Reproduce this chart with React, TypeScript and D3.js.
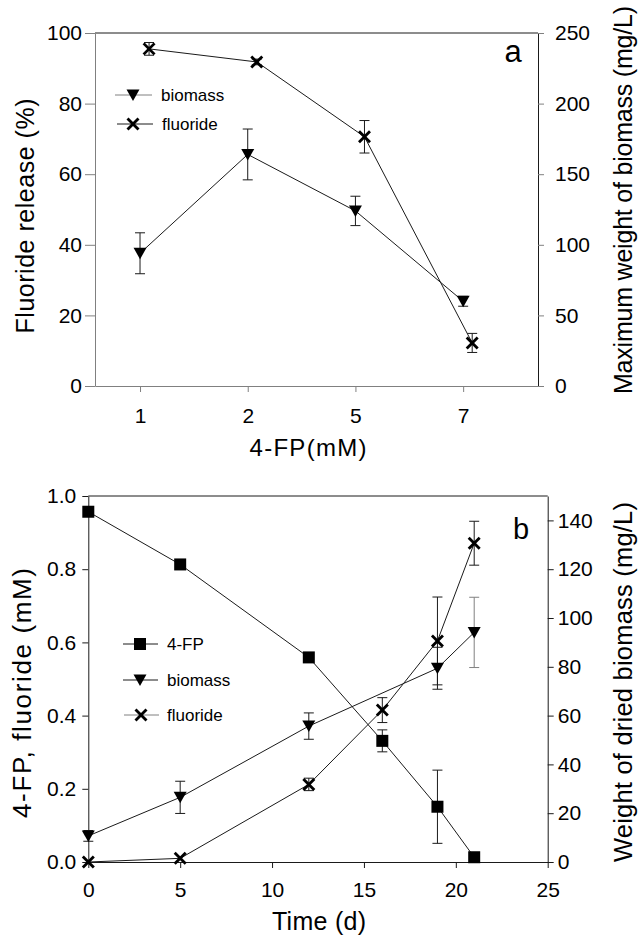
import React, { useEffect, useRef } from 'react';
import * as d3 from 'd3';

// panel a: 4-FP concentration series
const CONC_LABELS = ['1', '2', '5', '7'];
const CONC_POS = [1, 2, 3, 4];
const RELEASE = [95.5, 91.8, 70.6, 12.2];
const RELEASE_ERR = [1.8, 0.8, 4.6, 2.7];
const MAX_BIOMASS = [94, 164, 124, 60];
const MAX_BIOMASS_ERR = [14.5, 18, 10.4, 3.5];

// panel b: time course
const DAYS = [0, 5, 12, 16, 19, 21];
const FP = [0.957, 0.813, 0.559, 0.331, 0.151, 0.013];
const FP_ERR = [0, 0, 0, 0.03, 0.1, 0];
const FLUORIDE = [0.0, 0.01, 0.212, 0.415, 0.604, 0.871];
const FLUORIDE_ERR = [0, 0, 0.017, 0.034, 0.12, 0.06];
const BIOMASS_DAYS = [0, 5, 12, 19, 21];
const BIOMASS = [10.7, 26.5, 55.7, 79.4, 94.1];
const BIOMASS_ERR = [2.2, 6.6, 5.4, 8.6, 14.4];

const FONT = '"Liberation Sans", Arial, Helvetica, sans-serif';
const GRAY = '#808080';
const INK = '#1a1a1a';

const A = { left: 95, right: 538, top: 33, bottom: 386 };
const B = { left: 88.3, right: 547.7, top: 496, bottom: 862 };

const xA = d3.scaleLinear().domain([0.582, 4.695]).range([A.left, A.right]);
const yA = d3.scaleLinear().domain([0, 100]).range([A.bottom, A.top]);
const yA2 = d3.scaleLinear().domain([0, 250]).range([A.bottom, A.top]);

const xB = d3.scaleLinear().domain([0, 25]).range([B.left, B.right]);
const yB = d3.scaleLinear().domain([0, 1]).range([B.bottom, B.top]);
const yB2 = d3.scaleLinear().domain([0, 150]).range([B.bottom, B.top]);

const OFFSET = 0.084; // fluoride markers sit a little right of the category

function Tri({ x, y }: { x: number; y: number }) {
  return <path d={`M${x - 6.5},${y - 5.5}L${x + 6.5},${y - 5.5}L${x},${y + 6}Z`} fill="#000" />;
}
function Sq({ x, y }: { x: number; y: number }) {
  return <rect x={x - 6} y={y - 6} width={12} height={12} fill="#000" />;
}
function Cross({ x, y }: { x: number; y: number }) {
  const s = 5.5;
  return (
    <g stroke="#000" strokeWidth={2.8}>
      <line x1={x - s} y1={y - s} x2={x + s} y2={y + s} />
      <line x1={x - s} y1={y + s} x2={x + s} y2={y - s} />
    </g>
  );
}

function ErrBar({ x, y1, y2, color = INK }: { x: number; y1: number; y2: number; color?: string }) {
  if (Math.abs(y1 - y2) < 0.5) return null;
  return (
    <g stroke={color} strokeWidth={1}>
      <line x1={x} x2={x} y1={y1} y2={y2} />
      <line x1={x - 5} x2={x + 5} y1={y1} y2={y1} />
      <line x1={x - 5} x2={x + 5} y1={y2} y2={y2} />
    </g>
  );
}

function styleAxis(g: any, domainColor: string, tickColor: string) {
  g.attr('font-family', FONT).attr('font-size', 21);
  g.select('.domain').attr('stroke', domainColor);
  g.selectAll('.tick line').attr('stroke', tickColor);
  g.selectAll('.tick text').attr('fill', '#000');
}

export default function App() {
  const aLeft = useRef<SVGGElement>(null);
  const aRight = useRef<SVGGElement>(null);
  const aBottom = useRef<SVGGElement>(null);
  const bLeft = useRef<SVGGElement>(null);
  const bRight = useRef<SVGGElement>(null);
  const bBottom = useRef<SVGGElement>(null);

  useEffect(() => {
    d3.select(aLeft.current!)
      .call(d3.axisLeft(yA).tickValues([0, 20, 40, 60, 80, 100]).tickSize(10).tickPadding(3).tickSizeOuter(0))
      .call(g => styleAxis(g, GRAY, GRAY));
    d3.select(aRight.current!)
      .call(d3.axisRight(yA2).tickValues([0, 50, 100, 150, 200, 250]).tickSize(6).tickPadding(11).tickSizeOuter(0))
      .call(g => styleAxis(g, INK, GRAY));
    d3.select(aBottom.current!)
      .call(
        d3.axisBottom(xA).tickValues(CONC_POS).tickFormat((d: any) => CONC_LABELS[CONC_POS.indexOf(d)])
          .tickSize(6).tickPadding(16).tickSizeOuter(0)
      )
      .call(g => styleAxis(g, GRAY, GRAY));

    d3.select(bLeft.current!)
      .call(d3.axisLeft(yB).ticks(5).tickFormat(d3.format('.1f')).tickSize(6).tickPadding(6).tickSizeOuter(0))
      .call(g => styleAxis(g, INK, INK));
    d3.select(bRight.current!)
      .call(d3.axisRight(yB2).tickValues(d3.range(0, 141, 20)).tickSize(6).tickPadding(4).tickSizeOuter(0))
      .call(g => styleAxis(g, INK, INK));
    d3.select(bBottom.current!)
      .call(d3.axisBottom(xB).ticks(5).tickSize(6).tickPadding(14).tickSizeOuter(0))
      .call(g => styleAxis(g, INK, INK));
  }, []);

  const lineA = d3.line<[number, number]>().x(d => d[0]).y(d => d[1]);

  const relPts: [number, number][] = RELEASE.map((v, i) => [xA(CONC_POS[i] + OFFSET), yA(v)]);
  const bioPtsA: [number, number][] = MAX_BIOMASS.map((v, i) => [xA(CONC_POS[i]), yA2(v)]);

  const fpPts: [number, number][] = FP.map((v, i) => [xB(DAYS[i]), yB(v)]);
  const flPts: [number, number][] = FLUORIDE.map((v, i) => [xB(DAYS[i]), yB(v)]);
  const bioPtsB: [number, number][] = BIOMASS.map((v, i) => [xB(BIOMASS_DAYS[i]), yB2(v)]);

  return (
    <svg width={638} height={939} style={{ position: 'absolute', left: 0, top: 0, background: '#fff' }} fontFamily={FONT}>
      <rect width={638} height={939} fill="#fff" />

      {/* ---------- panel a ---------- */}
      <line x1={A.left} x2={A.right} y1={A.top} y2={A.top} stroke={INK} />
      <g ref={aLeft} transform={`translate(${A.left},0)`} />
      <g ref={aRight} transform={`translate(${A.right},0)`} />
      <g ref={aBottom} transform={`translate(0,${A.bottom})`} />

      {MAX_BIOMASS.map((v, i) => (
        <ErrBar key={'ea' + i} x={xA(CONC_POS[i])} y1={yA2(v - MAX_BIOMASS_ERR[i])} y2={yA2(v + MAX_BIOMASS_ERR[i])} />
      ))}
      {RELEASE.map((v, i) => (
        <ErrBar key={'er' + i} x={xA(CONC_POS[i] + OFFSET)} y1={yA(v - RELEASE_ERR[i])} y2={yA(v + RELEASE_ERR[i])} />
      ))}
      <path d={lineA(bioPtsA)!} fill="none" stroke={INK} strokeWidth={1} />
      <path d={lineA(relPts)!} fill="none" stroke={INK} strokeWidth={1} />
      {bioPtsA.map((p, i) => <Tri key={'ta' + i} x={p[0]} y={p[1]} />)}
      {relPts.map((p, i) => <Cross key={'ca' + i} x={p[0]} y={p[1]} />)}

      <g fontSize={17}>
        <line x1={115} x2={152} y1={95} y2={95} stroke={GRAY} />
        <Tri x={133} y={95} />
        <text x={161} y={95} dy="0.35em">biomass</text>
        <line x1={117} x2={153} y1={124} y2={124} stroke={INK} />
        <Cross x={133} y={124} />
        <text x={162} y={124} dy="0.35em">fluoride</text>
      </g>
      <text x={513} y={62} fontSize={31} textAnchor="middle">a</text>

      <text x={308} y={456} fontSize={24} textAnchor="middle" textLength={117}>4-FP(mM)</text>
      <text transform="translate(33.5,216) rotate(-90)" fontSize={25} textAnchor="middle" textLength={235}>
        Fluoride release (%)
      </text>
      <text transform="translate(632,200) rotate(-90)" fontSize={25} textAnchor="middle" textLength={388}>
        Maximum weight of biomass (mg/L)
      </text>

      {/* ---------- panel b ---------- */}
      <line x1={B.left} x2={B.right} y1={B.top} y2={B.top} stroke={INK} />
      <g ref={bLeft} transform={`translate(${B.left},0)`} />
      <g ref={bRight} transform={`translate(${B.right},0)`} />
      <g ref={bBottom} transform={`translate(0,${B.bottom})`} />

      {FP.map((v, i) => (
        <ErrBar key={'ef' + i} x={xB(DAYS[i])} y1={yB(v - FP_ERR[i])} y2={yB(v + FP_ERR[i])} />
      ))}
      {FLUORIDE.map((v, i) => (
        <ErrBar key={'el' + i} x={xB(DAYS[i])} y1={yB(v - FLUORIDE_ERR[i])} y2={yB(v + FLUORIDE_ERR[i])} />
      ))}
      {BIOMASS.map((v, i) => (
        <ErrBar
          key={'eb' + i}
          x={xB(BIOMASS_DAYS[i])}
          y1={yB2(v - BIOMASS_ERR[i])}
          y2={yB2(v + BIOMASS_ERR[i])}
          color={i === BIOMASS.length - 1 ? GRAY : INK}
        />
      ))}
      <path d={lineA(fpPts)!} fill="none" stroke={INK} strokeWidth={1} />
      <path d={lineA(bioPtsB)!} fill="none" stroke={INK} strokeWidth={1} />
      <path d={lineA(flPts)!} fill="none" stroke={INK} strokeWidth={1} />
      {fpPts.map((p, i) => <Sq key={'sb' + i} x={p[0]} y={p[1]} />)}
      {bioPtsB.map((p, i) => <Tri key={'tb' + i} x={p[0]} y={p[1]} />)}
      {flPts.map((p, i) => <Cross key={'cb' + i} x={p[0]} y={p[1]} />)}

      <g fontSize={17}>
        <line x1={123} x2={158} y1={644} y2={644} stroke={INK} />
        <Sq x={140} y={644} />
        <text x={167} y={644} dy="0.35em">4-FP</text>
        <line x1={123} x2={158} y1={680} y2={680} stroke={INK} />
        <Tri x={140} y={680} />
        <text x={167} y={680} dy="0.35em">biomass</text>
        <line x1={124} x2={159} y1={715} y2={715} stroke={GRAY} />
        <Cross x={141} y={715} />
        <text x={167} y={715} dy="0.35em">fluoride</text>
      </g>
      <text x={521} y={539} fontSize={29} textAnchor="middle">b</text>

      <text x={319} y={930} fontSize={25} textAnchor="middle" textLength={94}>Time (d)</text>
      <text transform="translate(31,693) rotate(-90)" fontSize={26} textAnchor="middle" textLength={250}>
        4-FP, fluoride (mM)
      </text>
      <text transform="translate(632,682) rotate(-90)" fontSize={25.5} textAnchor="middle" textLength={360}>
        Weight of dried biomass (mg/L)
      </text>
    </svg>
  );
}
